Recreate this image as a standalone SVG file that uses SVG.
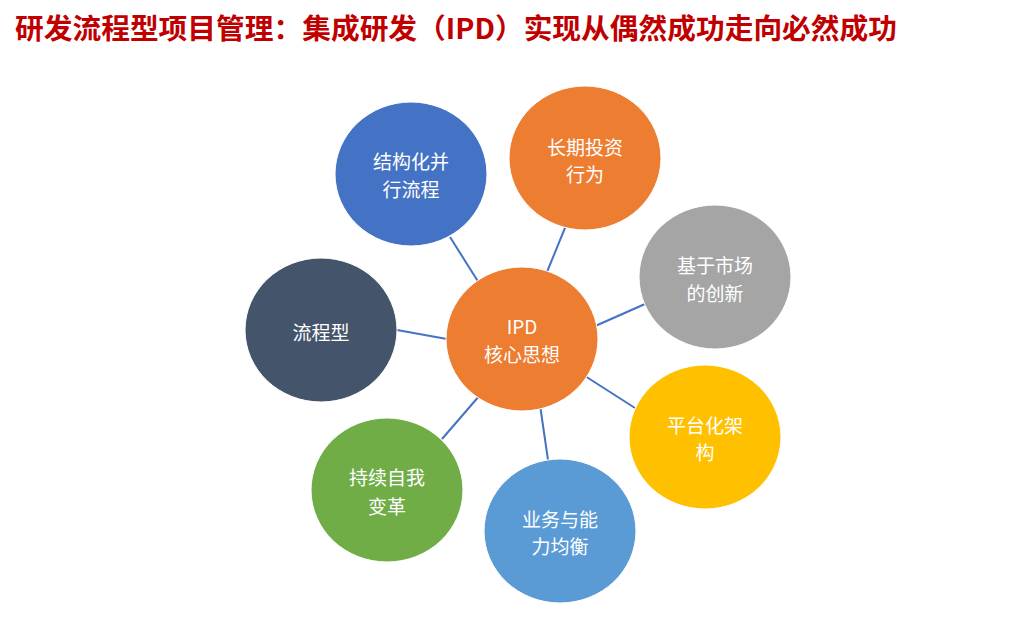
<svg xmlns="http://www.w3.org/2000/svg" width="1024" height="628" viewBox="0 0 1024 628">
<style>
.title{font-family:"Noto Sans CJK SC","Noto Sans",sans-serif;font-weight:bold;font-size:28px;fill:#C00000}
.lbl{font-family:"Noto Sans CJK SC","Noto Sans",sans-serif;font-size:19px;fill:#FFFFFF;text-anchor:middle}
.conn line{stroke:#4472C4;stroke-width:2}
.node ellipse{stroke:#FFFFFF;stroke-width:1}
</style>
<rect width="1024" height="628" fill="#FFFFFF"/>
<text class="title" x="15" y="39" textLength="882" lengthAdjust="spacingAndGlyphs">研发流程型项目管理：集成研发（IPD）实现从偶然成功走向必然成功</text>
<g id="connectors" class="conn">
<line x1="450" y1="237" x2="479" y2="283"/>
<line x1="567" y1="223" x2="547" y2="272"/>
<line x1="645" y1="304" x2="593" y2="327"/>
<line x1="397" y1="330" x2="447" y2="339"/>
<line x1="585" y1="376" x2="635" y2="408"/>
<line x1="540" y1="405" x2="548" y2="460"/>
<line x1="480" y1="395" x2="442" y2="439"/>
</g>
<g id="node-core" class="node">
<ellipse cx="522" cy="339" rx="76" ry="72" fill="#ED7D31"/>
<text class="lbl" x="522" y="334">IPD</text>
<text class="lbl" x="522" y="362">核心思想</text>
</g>
<g id="node-parallel" class="node">
<ellipse cx="411" cy="174" rx="76" ry="72" fill="#4472C4"/>
<text class="lbl" x="411" y="169">结构化并</text>
<text class="lbl" x="411" y="197">行流程</text>
</g>
<g id="node-invest" class="node">
<ellipse cx="585" cy="158" rx="76" ry="72" fill="#ED7D31"/>
<text class="lbl" x="585" y="155">长期投资</text>
<text class="lbl" x="585" y="182">行为</text>
</g>
<g id="node-market" class="node">
<ellipse cx="715" cy="277" rx="76" ry="72" fill="#A5A5A5"/>
<text class="lbl" x="715" y="273">基于市场</text>
<text class="lbl" x="715" y="301">的创新</text>
</g>
<g id="node-process" class="node">
<ellipse cx="321" cy="330" rx="76" ry="72" fill="#44546A"/>
<text class="lbl" x="321" y="340">流程型</text>
</g>
<g id="node-platform" class="node">
<ellipse cx="705" cy="437" rx="76" ry="72" fill="#FFC000"/>
<text class="lbl" x="705" y="433">平台化架</text>
<text class="lbl" x="705" y="460">构</text>
</g>
<g id="node-balance" class="node">
<ellipse cx="560" cy="531" rx="76" ry="72" fill="#5B9BD5"/>
<text class="lbl" x="560" y="527">业务与能</text>
<text class="lbl" x="560" y="554">力均衡</text>
</g>
<g id="node-change" class="node">
<ellipse cx="387" cy="490" rx="76" ry="72" fill="#70AD47"/>
<text class="lbl" x="387" y="485">持续自我</text>
<text class="lbl" x="387" y="514">变革</text>
</g>
</svg>
